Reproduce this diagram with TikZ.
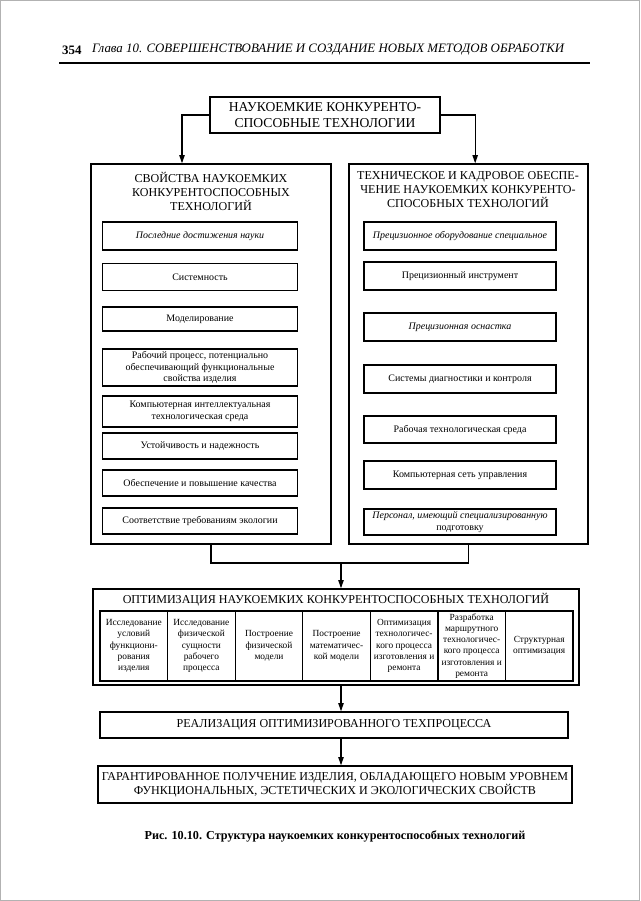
\documentclass[tikz,border=0pt]{standalone}
\usepackage{fontspec}
\setmainfont{Liberation Serif}
\usetikzlibrary{arrows.meta,positioning,calc}
\newcommand{\titlefont}{\fontsize{11.6}{14.4}\selectfont}
\newcommand{\headfont}{\fontsize{10.3}{12}\selectfont}
\newcommand{\itemfont}{\fontsize{8.5}{9.8}\selectfont}
\newcommand{\cellfont}{\fontsize{8}{9.6}\selectfont}

\begin{document}
\begin{tikzpicture}[
  x=0.3mm,y=-0.3mm,
  box/.style  ={draw,line width=1.1pt,inner sep=2pt,align=center},
  item/.style ={box,minimum width=5.85cm,minimum height=0.8cm,font=\itemfont},
  ritem/.style={box,minimum width=5.76cm,minimum height=0.84cm,font=\itemfont},
  cell/.style ={draw,line width=1pt,minimum width=2.027cm,minimum height=2.1cm,
                inner sep=0pt,align=center,font=\cellfont},
  arr/.style  ={-{Triangle[length=7pt,width=4.5pt]},line width=1.1pt},
  link/.style ={line width=1.1pt},
]
\useasboundingbox (0,0) rectangle (640,901);
\draw[gray!60] (0.5,0.5) rectangle (639.5,900.5);

%% -- running head ------------------------------------------------------------
\node[anchor=west,font=\bfseries\fontsize{11}{13}\selectfont] (pgno) at (58,50) {354};
\node[anchor=west,font=\itshape\fontsize{11}{13}\selectfont] (runhead) [right=2pt of pgno]
  {Глава 10. СОВЕРШЕНСТВОВАНИЕ И СОЗДАНИЕ НОВЫХ МЕТОДОВ ОБРАБОТКИ};
\draw[line width=1.2pt] (59,63) -- (590,63);

%% -- top block ---------------------------------------------------------------
\node[box,minimum width=6.9cm,minimum height=1.08cm,font=\titlefont] (top) at (325,115)
  {НАУКОЕМКИЕ КОНКУРЕНТО-\\СПОСОБНЫЕ ТЕХНОЛОГИИ};

%% -- left column: properties -------------------------------------------------
\node[box,minimum width=7.2cm,minimum height=11.4cm] (lbox) at (211,354) {};
\node[font=\headfont,align=center] (lhead) at (211,191)
  {СВОЙСТВА НАУКОЕМКИХ\\КОНКУРЕНТОСПОСОБНЫХ\\ТЕХНОЛОГИЙ};
\node[item,font=\itemfont\itshape,minimum height=0.84cm] (sv1) at (200,236)
  {Последние достижения науки};
\node[item] (sv2) at (200,277) {Системность};
\node[item,minimum height=0.72cm] (sv3) at (200,319) {Моделирование};
\node[item,minimum height=1.11cm] (sv4) at (200,367.5)
  {Рабочий процесс, потенциально\\обеспечивающий функциональные\\свойства изделия};
\node[item,minimum height=0.93cm] (sv5) at (200,411.5)
  {Компьютерная интеллектуальная\\технологическая среда};
\node[item,minimum height=0.78cm] (sv6) at (200,446) {Устойчивость и надежность};
\node[item,minimum height=0.78cm] (sv7) at (200,483) {Обеспечение и повышение качества};
\node[item,minimum height=0.78cm] (sv8) at (200,521) {Соответствие требованиям экологии};

%% -- right column: technical and staff support -------------------------------
\node[box,minimum width=7.17cm,minimum height=11.4cm] (rbox) at (468.5,354) {};
\node[font=\headfont,align=center] (rhead) at (468,190)
  {ТЕХНИЧЕСКОЕ И КАДРОВОЕ ОБЕСПЕ-\\ЧЕНИЕ НАУКОЕМКИХ КОНКУРЕНТО-\\СПОСОБНЫХ ТЕХНОЛОГИЙ};
\node[ritem,font=\itemfont\itshape] (te1) at (460,236) {Прецизионное оборудование специальное};
\node[ritem] (te2) at (460,276) {Прецизионный инструмент};
\node[ritem,font=\itemfont\itshape] (te3) at (460,327) {Прецизионная оснастка};
\node[ritem] (te4) at (460,379) {Системы диагностики и контроля};
\node[ritem,minimum height=0.81cm] (te5) at (460,429.5) {Рабочая технологическая среда};
\node[ritem] (te6) at (460,475) {Компьютерная сеть управления};
\node[ritem,minimum height=0.78cm] (te7) at (460,522)
  {\itshape Персонал, имеющий специализированную\\подготовку};

%% -- optimisation block ------------------------------------------------------
\node[box,minimum width=14.58cm,minimum height=2.88cm] (opt) at (336,637) {};
\node[font=\headfont] (opthead) at (336,600)
  {ОПТИМИЗАЦИЯ НАУКОЕМКИХ КОНКУРЕНТОСПОСОБНЫХ ТЕХНОЛОГИЙ};
\node[cell] (c1) at (133.8,646) {Исследование\\условий\\функциони-\\рования\\изделия};
\node[cell] (c2) at (201.4,646) {Исследование\\физической\\сущности\\рабочего\\процесса};
\node[cell] (c3) at (269.0,646) {Построение\\физической\\модели};
\node[cell] (c4) at (336.5,646) {Построение\\математичес-\\кой модели};
\node[cell] (c5) at (404.1,646)
  {Оптимизация\\технологичес-\\кого процесса\\изготовления и\\ремонта};
\node[cell] (c6) at (471.7,646)
  {Разработка\\маршрутного\\технологичес-\\кого процесса\\изготовления и\\ремонта};
\node[cell] (c7) at (539.2,646) {Структурная\\оптимизация};

%% -- realisation and result --------------------------------------------------
\node[box,minimum width=14.04cm,minimum height=0.78cm,font=\headfont] (real) at (334,725)
  {РЕАЛИЗАЦИЯ ОПТИМИЗИРОВАННОГО ТЕХПРОЦЕССА};
\node[box,minimum width=14.22cm,minimum height=1.11cm,font=\headfont] (result) at (335,784.5)
  {ГАРАНТИРОВАННОЕ ПОЛУЧЕНИЕ ИЗДЕЛИЯ, ОБЛАДАЮЩЕГО НОВЫМ УРОВНЕМ\\
   ФУНКЦИОНАЛЬНЫХ, ЭСТЕТИЧЕСКИХ И ЭКОЛОГИЧЕСКИХ СВОЙСТВ};

%% -- caption -----------------------------------------------------------------
\node[font=\bfseries\fontsize{10.4}{12}\selectfont] (caption) at (335,836)
  {Рис. 10.10. Структура наукоемких конкурентоспособных технологий};

%% -- connections -------------------------------------------------------------
\draw[arr] (top.west) -| ([xshift=-0.87cm]lbox.north);
\draw[arr] (top.east) -| ([xshift=0.2cm]rbox.north);

\coordinate (join) at (341,563);
\draw[link] (lbox.south) |- (join) -| (rbox.south);
\draw[arr] (join) -- (join |- opt.north);
\draw[arr] (join |- opt.south) -- (join |- real.north);
\draw[arr] (join |- real.south) -- (join |- result.north);

\end{tikzpicture}
\end{document}
